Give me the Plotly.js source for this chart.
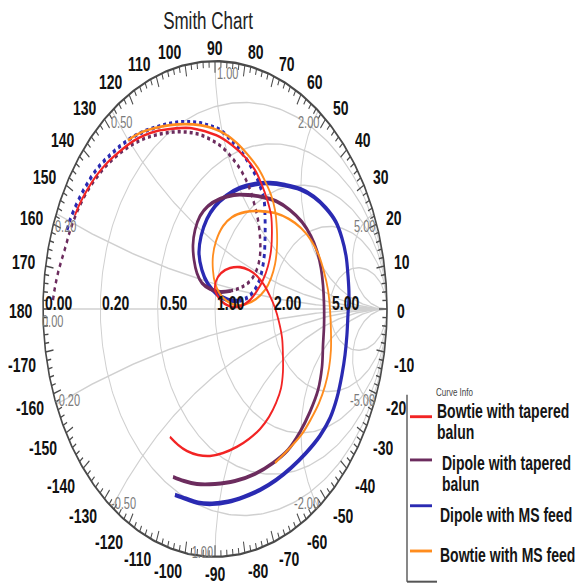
<!DOCTYPE html>
<html>
<head>
<meta charset="utf-8">
<script src="https://cdn.plot.ly/plotly-3.0.1.min.js"></script>
<style>
  html, body { margin: 0; padding: 0; background: #fff; width: 579px; height: 585px; }
  /* the chart is laid out square and then stretched vertically */
  #chart { width: 579px; height: 406px; transform: scaleY(1.44089); transform-origin: 0 0; }
</style>
</head>
<body>
<div id="chart"></div>
<script>
// ---- S11 of the four antenna variants, as reflection coefficient (real, imaginary) ----
const seriesNames = ['Bowtie with tapered balun', 'Dipole with tapered balun', 'Dipole with MS feed', 'Bowtie with MS feed'];

const bowtieTaperedRe = [-0.814,-0.785,-0.744,-0.692,-0.628,-0.552,-0.477,-0.407,-0.337,-0.262,-0.203,-0.145,-0.087,-0.029,0.029,0.099,0.174,0.233,0.273,0.302,0.326,0.331,0.326,0.308,0.279,0.244,0.203,0.151,0.105,0.058,0.023,0.000,0.006,0.035,0.087,0.145,0.198,0.244,0.285,0.320,0.349,0.372,0.390,0.395,0.395,0.384,0.355,0.314,0.262,0.198,0.128,0.047,-0.029,-0.099,-0.163,-0.215,-0.262];
const bowtieTaperedIm = [0.379,0.427,0.480,0.536,0.589,0.637,0.677,0.702,0.718,0.726,0.730,0.730,0.722,0.710,0.694,0.661,0.613,0.560,0.500,0.444,0.379,0.310,0.238,0.173,0.117,0.073,0.036,0.012,0.008,0.020,0.044,0.077,0.113,0.145,0.165,0.169,0.157,0.133,0.097,0.052,0.004,-0.052,-0.117,-0.190,-0.254,-0.319,-0.379,-0.435,-0.484,-0.524,-0.556,-0.581,-0.593,-0.589,-0.573,-0.548,-0.516];

const dipoleTaperedRe = [-0.942,-0.930,-0.913,-0.890,-0.866,-0.843,-0.814,-0.779,-0.738,-0.686,-0.628,-0.552,-0.477,-0.401,-0.320,-0.244,-0.169,-0.099,-0.029,0.041,0.105,0.157,0.198,0.227,0.250,0.262,0.262,0.244,0.209,0.157,0.093,
  0.029,-0.029,-0.076,-0.105,-0.122,-0.128,-0.116,-0.087,-0.041,0.029,0.110,0.192,0.273,0.355,0.436,0.506,0.558,0.593,0.616,0.628,0.634,0.634,0.628,0.622,0.599,0.552,0.494,0.424,0.337,0.233,0.116,0.000,-0.105,-0.180,-0.244];
const dipoleTaperedIm = [0.036,0.089,0.145,0.202,0.258,0.315,0.371,0.427,0.480,0.532,0.581,0.629,0.665,0.690,0.706,0.714,0.714,0.706,0.685,0.653,0.605,0.552,0.492,0.427,0.359,0.286,0.218,0.161,0.117,0.089,0.073,
  0.069,0.081,0.105,0.145,0.198,0.258,0.319,0.375,0.415,0.444,0.460,0.460,0.452,0.435,0.399,0.351,0.294,0.234,0.165,0.097,0.016,-0.065,-0.145,-0.234,-0.327,-0.415,-0.496,-0.569,-0.621,-0.665,-0.694,-0.706,-0.706,-0.694,-0.677];

const dipoleMsRe = [-0.860,-0.843,-0.820,-0.785,-0.744,-0.692,-0.628,-0.552,-0.477,-0.407,-0.337,-0.273,-0.203,-0.145,-0.087,-0.029,0.029,0.105,0.174,0.227,0.262,0.285,0.291,0.291,0.285,0.267,0.238,0.192,0.134,
  0.076,0.012,-0.041,-0.076,-0.093,-0.081,-0.047,0.000,0.064,0.145,0.233,0.320,0.407,0.494,0.576,0.645,0.703,0.738,0.762,0.773,0.779,0.773,0.767,0.756,0.738,0.709,0.669,0.610,0.529,0.442,0.355,0.262,0.169,0.076,-0.017,-0.099,-0.169,-0.233];
const dipoleMsIm = [0.319,0.359,0.399,0.452,0.504,0.560,0.609,0.657,0.694,0.718,0.734,0.746,0.754,0.754,0.750,0.738,0.722,0.673,0.613,0.552,0.496,0.440,0.367,0.286,0.206,0.137,0.085,0.048,0.032,
  0.036,0.060,0.101,0.157,0.226,0.294,0.363,0.415,0.456,0.488,0.504,0.508,0.500,0.484,0.452,0.407,0.351,0.286,0.214,0.137,0.056,-0.024,-0.105,-0.185,-0.266,-0.359,-0.440,-0.512,-0.581,-0.641,-0.690,-0.730,-0.758,-0.778,-0.786,-0.782,-0.766,-0.750];

const bowtieMsRe = [-0.506,-0.436,-0.349,-0.262,-0.174,-0.087,-0.017,0.058,0.128,0.192,0.250,0.291,0.326,0.349,0.360,0.360,0.349,0.326,0.291,0.238,0.180,0.122,0.070,0.029,0.000,-0.012,-0.012,0.006,0.047,0.099,0.174,0.262,0.349,0.430,0.500,0.558,0.605,0.634,0.657,0.669,0.674,0.674,0.663,0.640,0.605,0.558,0.506,0.436,0.349];
const bowtieMsIm = [0.681,0.710,0.730,0.742,0.746,0.742,0.730,0.706,0.669,0.621,0.569,0.516,0.460,0.399,0.319,0.246,0.181,0.125,0.077,0.040,0.020,0.016,0.032,0.060,0.105,0.157,0.214,0.274,0.335,0.371,0.391,0.395,0.387,0.363,0.327,0.278,0.214,0.149,0.077,-0.004,-0.085,-0.165,-0.238,-0.310,-0.379,-0.444,-0.504,-0.560,-0.621];

// ---- grid values ----
const resistanceTicks = [0, 0.2, 0.5, 1, 2, 5];
const reactanceTicks = [0.2, 0.5, 1, 2, 5, -0.2, -0.5, -1, -2, -5];
const angleLabels = [0,10,20,30,40,50,60,70,80,90,100,110,120,130,140,150,160,170,180,-10,-20,-30,-40,-50,-60,-70,-80,-90,-100,-110,-120,-130,-140,-150,-160,-170];

// ---- geometry & styling ----
const W = 579, H = 406;            // frame before the vertical stretch
const R = 172;                     // chart radius, px
const CX = 215, CY = 214.45;       // chart centre, px
const u = v => v / R;              // px -> chart units
const FONT = 'Liberation Sans, Arial, Helvetica, sans-serif';

// normalised impedance -> reflection coefficient
function gamma(r, x) {
  const den = (r + 1) * (r + 1) + x * x;
  return [(r * r + x * x - 1) / den, 2 * x / den];
}

const traces = [];

// constant-resistance circles, constant-reactance arcs and the real axis
(function grid() {
  const gx = [], gy = [];
  resistanceTicks.filter(r => r > 0).forEach(r => {
    for (let i = 0; i <= 400; i++) {
      const phi = -Math.PI / 2 + Math.PI * i / 400;
      const x = Math.abs(Math.cos(phi)) < 1e-9 ? Math.sign(phi) * 1e9 : Math.tan(phi);
      const g = gamma(r, x); gx.push(g[0]); gy.push(g[1]);
    }
    gx.push(null); gy.push(null);
  });
  reactanceTicks.forEach(x => {
    for (let i = 0; i <= 300; i++) {
      const s = i / 300 * 0.9995;
      const g = gamma(s / (1 - s), x); gx.push(g[0]); gy.push(g[1]);
    }
    gx.push(1); gy.push(0); gx.push(null); gy.push(null);
  });
  gx.push(-1, 1); gy.push(0, 0);
  traces.push({ type: 'scatter', mode: 'lines', x: gx, y: gy, name: 'grid',
    line: { color: '#d0d0d0', width: 1 }, hoverinfo: 'skip', showlegend: false });
})();

// outer rim with inward angle ticks
(function rim() {
  const rx = [], ry = [];
  for (let i = 0; i <= 720; i++) { const t = 2 * Math.PI * i / 720; rx.push(Math.cos(t)); ry.push(Math.sin(t)); }
  traces.push({ type: 'scatter', mode: 'lines', x: rx, y: ry, name: 'rim',
    line: { color: '#4a4a4a', width: 1.6 }, hoverinfo: 'skip', showlegend: false });
  const tx = [], ty = [];
  for (let d = 0; d < 360; d += 2) {
    const t = d * Math.PI / 180, len = d % 10 === 0 ? 8 : 4.5;
    tx.push(Math.cos(t), (1 - u(len)) * Math.cos(t), null);
    ty.push(Math.sin(t), (1 - u(len)) * Math.sin(t), null);
  }
  traces.push({ type: 'scatter', mode: 'lines', x: tx, y: ty, name: 'angle ticks',
    line: { color: '#4a4a4a', width: 1 }, hoverinfo: 'skip', showlegend: false });
})();

// measured curves; leading points of two curves are drawn dotted
const curveStyles = [
  { re: dipoleMsRe, im: dipoleMsIm, name: seriesNames[2], color: '#2a2ab2', width: 3.2, dotted: 29 },
  { re: dipoleTaperedRe, im: dipoleTaperedIm, name: seriesNames[1], color: '#6c2c5e', width: 2.7, dotted: 31 },
  { re: bowtieMsRe, im: bowtieMsIm, name: seriesNames[3], color: '#ff8c1e', width: 1.8, dotted: 0 },
  { re: bowtieTaperedRe, im: bowtieTaperedIm, name: seriesNames[0], color: '#f22424', width: 1.8, dotted: 0 }
];
curveStyles.forEach(c => {
  if (c.dotted > 0) {
    traces.push({ type: 'scatter', mode: 'lines', x: c.re.slice(0, c.dotted), y: c.im.slice(0, c.dotted),
      name: c.name, legendgroup: c.name, showlegend: false,
      line: { color: c.color, width: c.width * 0.9, dash: 'dot', shape: 'spline', smoothing: 1 } });
  }
  const k = Math.max(0, c.dotted - 1);
  traces.push({ type: 'scatter', mode: 'lines', x: c.re.slice(k), y: c.im.slice(k),
    name: c.name, legendgroup: c.name, showlegend: false,
    line: { color: c.color, width: c.width, shape: 'spline', smoothing: 1 } });
});

const ann = [];

// angle labels outside the rim
angleLabels.forEach(a => {
  const t = a * Math.PI / 180, rr = 1 + u(8);
  let x = rr * Math.cos(t), y = rr * Math.sin(t);
  const xa = Math.abs(a) === 90 ? 'center' : (Math.abs(a) > 90 ? 'right' : 'left');
  if (a === 0 || a === 180) y -= u(2);
  else if (a > 0) y += u(1.5);
  else y -= u(3.5 + 4 * Math.abs(Math.cos(t)));
  ann.push({ xref: 'x', yref: 'y', x: x, y: y, text: String(a), xanchor: xa, yanchor: 'middle',
    height: 12, showarrow: false,
    font: { family: FONT, size: 14, color: '#111', weight: 'bold' } });
});

// resistance labels along the real axis
resistanceTicks.forEach(r => {
  ann.push({ xref: 'x', yref: 'y', x: (r - 1) / (r + 1), y: u(4.8), text: r.toFixed(2),
    xanchor: 'left', yanchor: 'middle', showarrow: false,
    font: { family: FONT, size: 14, color: '#111', weight: 'bold' } });
});

// reactance labels just inside the rim
[0].concat(reactanceTicks).forEach(x => {
  const g = gamma(0, x);
  let xa, dx;
  if (Math.abs(g[0]) < 0.05) { xa = x > 0 ? 'left' : 'right'; dx = 0; }
  else if (g[0] < 0) { xa = 'left'; dx = -3; }
  else { xa = 'right'; dx = 3; }
  const dy = x > 0 ? -8.5 : (x < 0 ? 3 : -8.9);
  ann.push({ xref: 'x', yref: 'y', x: g[0] + u(dx), y: g[1] + u(dy), text: x.toFixed(2),
    xanchor: xa, yanchor: 'middle', showarrow: false,
    font: { family: FONT, size: 11, color: '#7a7a7a' } });
});

// "Curve Info" legend block
const px2x = p => p / W, px2y = p => 1 - p / H;
const legendSampleY = [289.2, 319.2, 351.0, 382.4];
const legendTextX = [435, 440, 438, 438];
const legendTextY = [284.5, 321.2, 357.4, 384.6];
const legendColors = ['#f22424', '#6c2c5e', '#2a2ab2', '#ff8c1e'];
const shapes = [];
seriesNames.forEach((name, i) => {
  shapes.push({ type: 'line', xref: 'paper', yref: 'paper', x0: px2x(410), x1: px2x(432),
    y0: px2y(legendSampleY[i]), y1: px2y(legendSampleY[i]), line: { color: legendColors[i], width: 2 } });
  // wrap long names onto a second line
  let lines = [name];
  if (name.length > 19) { const cut = name.lastIndexOf(' ', 19); lines = [name.slice(0, cut), name.slice(cut + 1)]; }
  lines.forEach((ln, j) => {
    ann.push({ xref: 'paper', yref: 'paper', x: px2x(legendTextX[i]), y: px2y(legendTextY[i] + j * 15.2),
      text: ln, xanchor: 'left', yanchor: 'middle', showarrow: false,
      font: { family: FONT, size: 14, color: '#151515', weight: 'bold' } });
  });
});
ann.push({ xref: 'paper', yref: 'paper', x: px2x(434), y: px2y(272), text: 'Curve Info',
  xanchor: 'left', yanchor: 'middle', showarrow: false, font: { family: FONT, size: 8, color: '#444' } });
shapes.push({ type: 'line', xref: 'paper', yref: 'paper', x0: px2x(407), x1: px2x(407), y0: px2y(274), y1: px2y(403.7),
  line: { color: '#555', width: 1.4 } });
shapes.push({ type: 'line', xref: 'paper', yref: 'paper', x0: px2x(407), x1: px2x(437), y0: px2y(403.7), y1: px2y(403.7),
  line: { color: '#555', width: 1.4 } });

const layout = {
  width: W, height: H,
  margin: { l: 0, r: 0, t: 0, b: 0, pad: 0 },
  paper_bgcolor: '#fff', plot_bgcolor: '#fff',
  showlegend: false, hovermode: false,
  title: { text: 'Smith Chart', x: 208 / W, xanchor: 'center', xref: 'paper',
    y: 1 - 13.9 / H, yanchor: 'middle', yref: 'container',
    font: { family: FONT, size: 17, color: '#222' } },
  xaxis: { range: [-CX / R, (W - CX) / R], visible: false, fixedrange: true },
  yaxis: { range: [-(H - CY) / R, CY / R], visible: false, fixedrange: true },
  annotations: ann,
  shapes: shapes
};

Plotly.newPlot('chart', traces, layout, { staticPlot: true, displayModeBar: false });
</script>
</body>
</html>
